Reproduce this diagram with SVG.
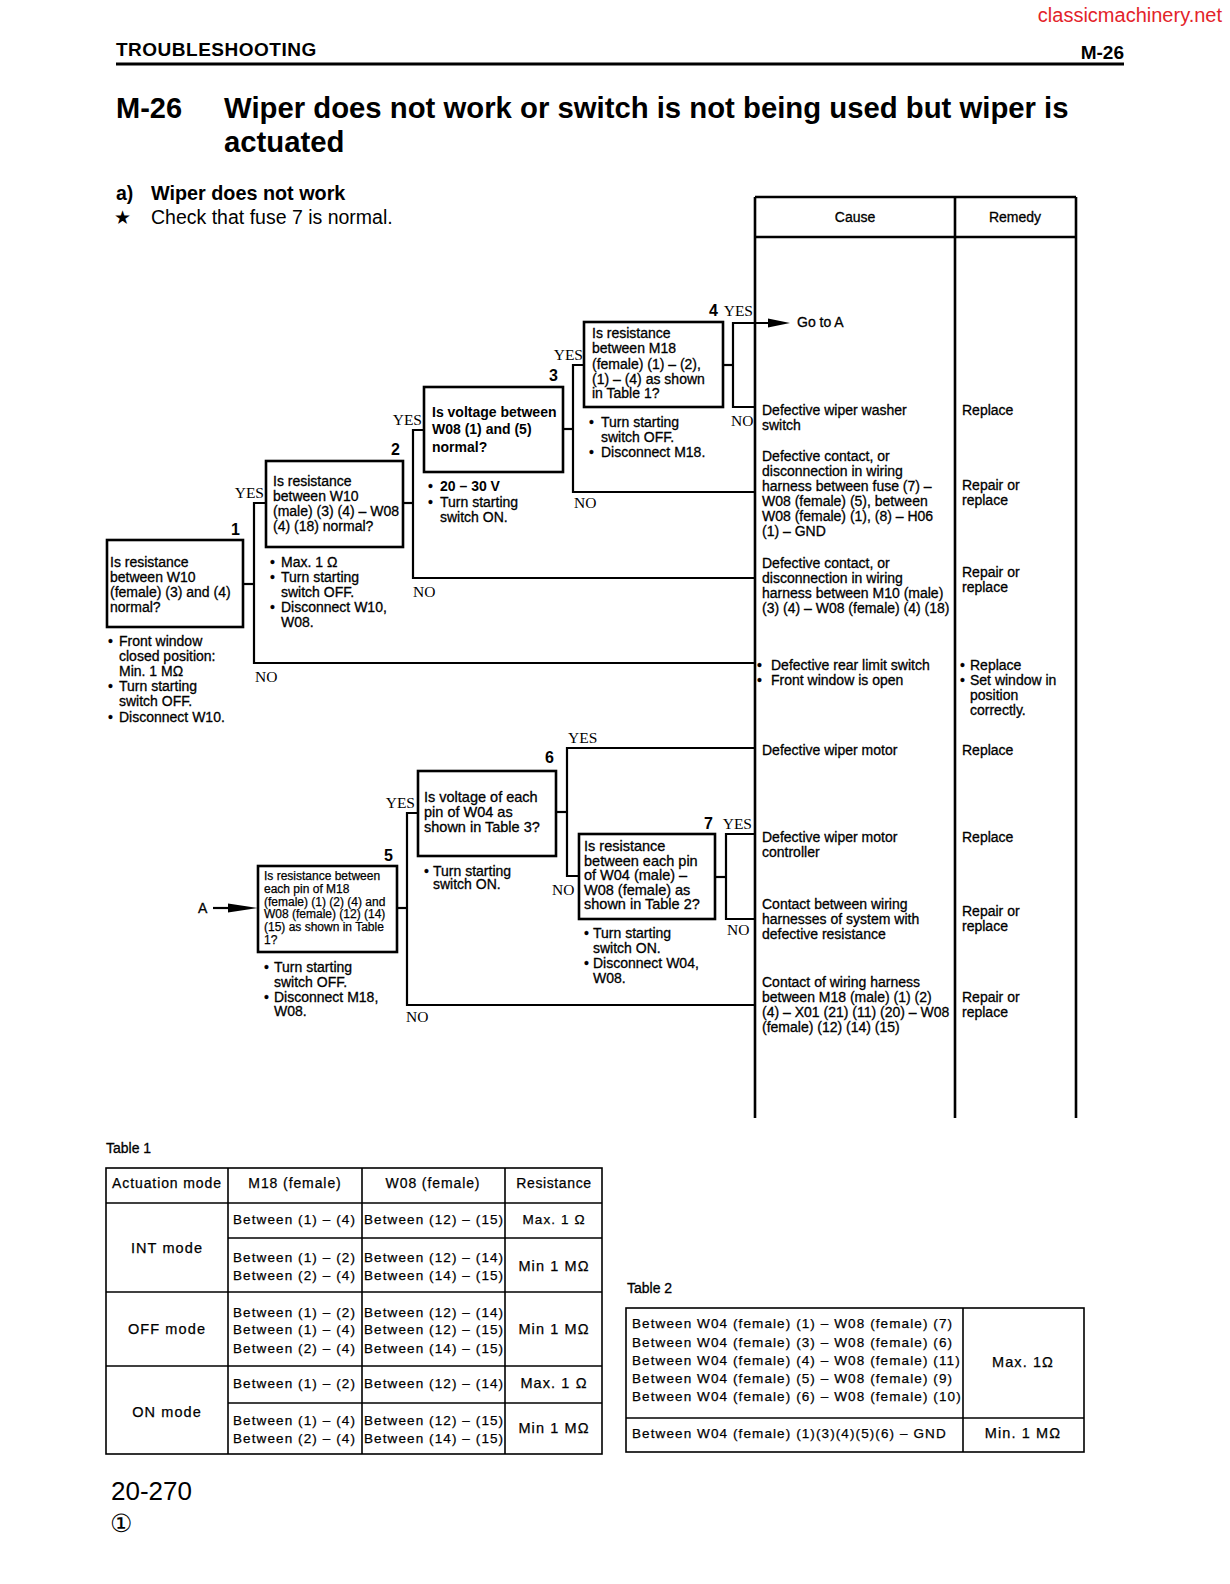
<svg xmlns="http://www.w3.org/2000/svg" width="1230" height="1584" viewBox="0 0 1230 1584">
<style>
text{font-family:"Liberation Sans",Arial,sans-serif;fill:#000}
.t{font-size:14px;stroke:#000;stroke-width:0.3}
.s{font-size:12px;stroke:#000;stroke-width:0.25}
.m{font-size:14.5px;stroke:#000;stroke-width:0.3}
.b{font-weight:bold;stroke:none}
.yn{font-family:"Liberation Serif","Times New Roman",serif;font-size:15.5px}
.num{font-size:16px;font-weight:bold}
.box{fill:#fff;stroke:#000;stroke-width:2.6}
.ln{stroke:#000;stroke-width:2.2;fill:none}
.col{stroke:#000;stroke-width:2.6;fill:none}
.tl{stroke:#000;stroke-width:1.6;fill:none}
.tb{font-size:13.5px;letter-spacing:1.1px;stroke:#000;stroke-width:0.25}
.mid{text-anchor:middle}
.end{text-anchor:end}
</style>
<rect width="1230" height="1584" fill="#fff"/>

<g id="header">
<text x="1222" y="22" class="end" style="font-size:20px;fill:#e3232a">classicmachinery.net</text>
<text x="116" y="56" class="b" style="font-size:19px;letter-spacing:0.5px">TROUBLESHOOTING</text>
<text x="1124" y="59" class="b end" style="font-size:19px">M-26</text>
<line x1="116" y1="64" x2="1124" y2="64" stroke="#000" stroke-width="3.2"/>
<text x="116" y="118" class="b" style="font-size:29px">M-26</text>
<text x="224" y="118" class="b" style="font-size:29.3px">Wiper does not work or switch is not being used but wiper is</text>
<text x="224" y="152" class="b" style="font-size:29.3px">actuated</text>
<text x="116" y="200" class="b" style="font-size:19.5px">a)</text>
<text x="151" y="200" class="b" style="font-size:19.8px">Wiper does not work</text>
<text x="114" y="224" style="font-size:19px">★</text>
<text x="151" y="224" style="font-size:19.5px">Check that fuse 7 is normal.</text>
</g>

<g id="cause-table">
<line x1="755" y1="197" x2="1076" y2="197" class="col"/>
<line x1="755" y1="237" x2="1076" y2="237" class="col"/>
<line x1="755" y1="197" x2="755" y2="1118" class="col"/>
<line x1="955" y1="197" x2="955" y2="1118" class="col"/>
<line x1="1076" y1="197" x2="1076" y2="1118" class="col"/>
<text x="855" y="222" class="t mid">Cause</text>
<text x="1015" y="222" class="t mid">Remedy</text>
<text x="797" y="327" class="t">Go to A</text>
<text x="762" y="415" class="t">Defective wiper washer</text>
<text x="762" y="430" class="t">switch</text>
<text x="962" y="415" class="t">Replace</text>
<text x="762" y="461" class="t">Defective contact, or</text>
<text x="762" y="476" class="t">disconnection in wiring</text>
<text x="762" y="491" class="t">harness between fuse (7) –</text>
<text x="762" y="506" class="t">W08 (female) (5), between</text>
<text x="762" y="521" class="t">W08 (female) (1), (8) – H06</text>
<text x="762" y="536" class="t">(1) – GND</text>
<text x="962" y="490" class="t">Repair or</text>
<text x="962" y="505" class="t">replace</text>
<text x="762" y="568" class="t">Defective contact, or</text>
<text x="762" y="583" class="t">disconnection in wiring</text>
<text x="762" y="598" class="t">harness between M10 (male)</text>
<text x="762" y="613" class="t">(3) (4) – W08 (female) (4) (18)</text>
<text x="962" y="577" class="t">Repair or</text>
<text x="962" y="592" class="t">replace</text>
<text x="757" y="670" class="t">•</text>
<text x="771" y="670" class="t">Defective rear limit switch</text>
<text x="757" y="685" class="t">•</text>
<text x="771" y="685" class="t">Front window is open</text>
<text x="960" y="670" class="t">•</text>
<text x="970" y="670" class="t">Replace</text>
<text x="960" y="685" class="t">•</text>
<text x="970" y="685" class="t">Set window in</text>
<text x="970" y="700" class="t">position</text>
<text x="970" y="715" class="t">correctly.</text>
<text x="762" y="755" class="t">Defective wiper motor</text>
<text x="962" y="755" class="t">Replace</text>
<text x="762" y="842" class="t">Defective wiper motor</text>
<text x="762" y="857" class="t">controller</text>
<text x="962" y="842" class="t">Replace</text>
<text x="762" y="909" class="t">Contact between wiring</text>
<text x="762" y="924" class="t">harnesses of system with</text>
<text x="762" y="939" class="t">defective resistance</text>
<text x="962" y="916" class="t">Repair or</text>
<text x="962" y="931" class="t">replace</text>
<text x="762" y="987" class="t">Contact of wiring harness</text>
<text x="762" y="1002" class="t">between M18 (male) (1) (2)</text>
<text x="762" y="1017" class="t">(4) – X01 (21) (11) (20) – W08</text>
<text x="762" y="1032" class="t">(female) (12) (14) (15)</text>
<text x="962" y="1002" class="t">Repair or</text>
<text x="962" y="1017" class="t">replace</text>
</g>

<g id="connectors">
<polyline class="ln" points="243,584 254,584"/>
<polyline class="ln" points="266,503 254,503 254,663 755,663"/>
<polyline class="ln" points="403,503 413,503"/>
<polyline class="ln" points="424,430 413,430 413,578 755,578"/>
<polyline class="ln" points="563,429 573,429"/>
<polyline class="ln" points="584,365 573,365 573,492 755,492"/>
<polyline class="ln" points="723,365 733,365"/>
<polyline class="ln" points="770,323 733,323 733,407 755,407"/>
<polygon points="790,323 768,318.5 768,327.5" fill="#000"/>
<line class="ln" x1="213" y1="908" x2="235" y2="908"/>
<polygon points="258,908 228,903.5 228,912.5" fill="#000"/>
<polyline class="ln" points="397,908 407,908"/>
<polyline class="ln" points="418,813 407,813 407,1005 755,1005"/>
<polyline class="ln" points="556,812 567,812"/>
<polyline class="ln" points="755,748 567,748 567,876 579,876"/>
<polyline class="ln" points="715,877 726,877"/>
<polyline class="ln" points="755,834 726,834 726,919 755,919"/>
<text x="264" y="498" class="yn end">YES</text>
<text x="255" y="682" class="yn">NO</text>
<text x="422" y="425" class="yn end">YES</text>
<text x="413" y="597" class="yn">NO</text>
<text x="583" y="360" class="yn end">YES</text>
<text x="574" y="508" class="yn">NO</text>
<text x="753" y="316" class="yn end">YES</text>
<text x="731" y="426" class="yn">NO</text>
<text x="415" y="808" class="yn end">YES</text>
<text x="406" y="1022" class="yn">NO</text>
<text x="568" y="743" class="yn">YES</text>
<text x="552" y="895" class="yn">NO</text>
<text x="752" y="829" class="yn end">YES</text>
<text x="727" y="935" class="yn">NO</text>
<text x="198" y="913" class="t">A</text>
</g>

<g id="node1">
<rect class="box" x="107" y="540" width="136" height="87"/>
<text x="240" y="535" class="num end">1</text>
<text x="110" y="567" class="t">Is resistance</text>
<text x="110" y="582" class="t">between W10</text>
<text x="110" y="597" class="t">(female) (3) and (4)</text>
<text x="110" y="612" class="t">normal?</text>
<text x="108" y="646" class="t">•</text>
<text x="119" y="646" class="t">Front window</text>
<text x="119" y="661" class="t">closed position:</text>
<text x="119" y="676" class="t">Min. 1 MΩ</text>
<text x="108" y="691" class="t">•</text>
<text x="119" y="691" class="t">Turn starting</text>
<text x="119" y="706" class="t">switch OFF.</text>
<text x="108" y="722" class="t">•</text>
<text x="119" y="722" class="t">Disconnect W10.</text>
</g>

<g id="node2">
<rect class="box" x="266" y="461" width="137" height="86"/>
<text x="400" y="455" class="num end">2</text>
<text x="273" y="486" class="t">Is resistance</text>
<text x="273" y="501" class="t">between W10</text>
<text x="273" y="516" class="t">(male) (3) (4) – W08</text>
<text x="273" y="531" class="t">(4) (18) normal?</text>
<text x="270" y="567" class="t">•</text>
<text x="281" y="567" class="t">Max. 1 Ω</text>
<text x="270" y="582" class="t">•</text>
<text x="281" y="582" class="t">Turn starting</text>
<text x="281" y="597" class="t">switch OFF.</text>
<text x="270" y="612" class="t">•</text>
<text x="281" y="612" class="t">Disconnect W10,</text>
<text x="281" y="627" class="t">W08.</text>
</g>

<g id="node3">
<rect class="box" x="424" y="387" width="139" height="85"/>
<text x="558" y="381" class="num end">3</text>
<text x="432" y="417" class="t b">Is voltage between</text>
<text x="432" y="434" class="t b">W08 (1) and (5)</text>
<text x="432" y="452" class="t b">normal?</text>
<text x="428" y="491" class="t">•</text>
<text x="440" y="491" class="t b">20 – 30 V</text>
<text x="428" y="507" class="t">•</text>
<text x="440" y="507" class="t">Turn starting</text>
<text x="440" y="522" class="t">switch ON.</text>
</g>

<g id="node4">
<rect class="box" x="584" y="322" width="139" height="85"/>
<text x="718" y="316" class="num end">4</text>
<text x="592" y="338" class="t">Is resistance</text>
<text x="592" y="353" class="t">between M18</text>
<text x="592" y="369" class="t">(female) (1) – (2),</text>
<text x="592" y="384" class="t">(1) – (4) as shown</text>
<text x="592" y="398" class="t">in Table 1?</text>
<text x="589" y="427" class="t">•</text>
<text x="601" y="427" class="t">Turn starting</text>
<text x="601" y="442" class="t">switch OFF.</text>
<text x="589" y="457" class="t">•</text>
<text x="601" y="457" class="t">Disconnect M18.</text>
</g>

<g id="node5">
<rect class="box" x="258" y="866" width="139" height="86"/>
<text x="393" y="861" class="num end">5</text>
<text x="264" y="880" class="s">Is resistance between</text>
<text x="264" y="893" class="s">each pin of M18</text>
<text x="264" y="906" class="s">(female) (1) (2) (4) and</text>
<text x="264" y="918" class="s">W08 (female) (12) (14)</text>
<text x="264" y="931" class="s">(15) as shown in Table</text>
<text x="264" y="944" class="s">1?</text>
<text x="264" y="972" class="t">•</text>
<text x="274" y="972" class="t">Turn starting</text>
<text x="274" y="987" class="t">switch OFF.</text>
<text x="264" y="1002" class="t">•</text>
<text x="274" y="1002" class="t">Disconnect M18,</text>
<text x="274" y="1016" class="t">W08.</text>
</g>

<g id="node6">
<rect class="box" x="418" y="771" width="138" height="85"/>
<text x="554" y="763" class="num end">6</text>
<text x="424" y="802" class="m">Is voltage of each</text>
<text x="424" y="817" class="m">pin of W04 as</text>
<text x="424" y="832" class="m">shown in Table 3?</text>
<text x="424" y="876" class="t">•</text>
<text x="433" y="876" class="t">Turn starting</text>
<text x="433" y="889" class="t">switch ON.</text>
</g>

<g id="node7">
<rect class="box" x="579" y="834" width="136" height="85"/>
<text x="713" y="829" class="num end">7</text>
<text x="584" y="851" class="m">Is resistance</text>
<text x="584" y="866" class="m">between each pin</text>
<text x="584" y="880" class="m">of W04 (male) –</text>
<text x="584" y="895" class="m">W08 (female) as</text>
<text x="584" y="909" class="m">shown in Table 2?</text>
<text x="584" y="938" class="t">•</text>
<text x="593" y="938" class="t">Turn starting</text>
<text x="593" y="953" class="t">switch ON.</text>
<text x="584" y="968" class="t">•</text>
<text x="593" y="968" class="t">Disconnect W04,</text>
<text x="593" y="983" class="t">W08.</text>
</g>

<g id="table1">
<text x="106" y="1153" class="t">Table 1</text>
<rect class="tl" x="106" y="1168" width="496" height="286"/>
<line class="tl" x1="106" y1="1203" x2="602" y2="1203"/>
<line class="tl" x1="228" y1="1238" x2="602" y2="1238"/>
<line class="tl" x1="106" y1="1292" x2="602" y2="1292"/>
<line class="tl" x1="106" y1="1366" x2="602" y2="1366"/>
<line class="tl" x1="228" y1="1403" x2="602" y2="1403"/>
<line class="tl" x1="228" y1="1168" x2="228" y2="1454"/>
<line class="tl" x1="362" y1="1168" x2="362" y2="1454"/>
<line class="tl" x1="505" y1="1168" x2="505" y2="1454"/>
<text x="167" y="1188" class="tb mid" style="font-size:14px;letter-spacing:0.9px">Actuation mode</text>
<text x="295" y="1188" class="tb mid" style="font-size:14px;letter-spacing:0.9px">M18 (female)</text>
<text x="433" y="1188" class="tb mid" style="font-size:14px;letter-spacing:0.9px">W08 (female)</text>
<text x="554" y="1188" class="tb mid" style="font-size:14px;letter-spacing:0.6px">Resistance</text>
<text x="167" y="1253" class="tb mid" style="font-size:14.5px">INT mode</text>
<text x="167" y="1334" class="tb mid" style="font-size:14.5px">OFF mode</text>
<text x="167" y="1417" class="tb mid" style="font-size:14.5px">ON mode</text>
<text x="233" y="1224" class="tb">Between (1) – (4)</text>
<text x="364" y="1224" class="tb">Between (12) – (15)</text>
<text x="554" y="1224" class="tb mid">Max. 1 Ω</text>
<text x="233" y="1262" class="tb">Between (1) – (2)</text>
<text x="364" y="1262" class="tb">Between (12) – (14)</text>
<text x="233" y="1280" class="tb">Between (2) – (4)</text>
<text x="364" y="1280" class="tb">Between (14) – (15)</text>
<text x="554" y="1271" class="tb mid" style="font-size:14.5px">Min 1 MΩ</text>
<text x="233" y="1317" class="tb">Between (1) – (2)</text>
<text x="364" y="1317" class="tb">Between (12) – (14)</text>
<text x="233" y="1334" class="tb">Between (1) – (4)</text>
<text x="364" y="1334" class="tb">Between (12) – (15)</text>
<text x="233" y="1353" class="tb">Between (2) – (4)</text>
<text x="364" y="1353" class="tb">Between (14) – (15)</text>
<text x="554" y="1334" class="tb mid" style="font-size:14.5px">Min 1 MΩ</text>
<text x="233" y="1388" class="tb">Between (1) – (2)</text>
<text x="364" y="1388" class="tb">Between (12) – (14)</text>
<text x="554" y="1388" class="tb mid" style="font-size:14.5px">Max. 1 Ω</text>
<text x="233" y="1425" class="tb">Between (1) – (4)</text>
<text x="364" y="1425" class="tb">Between (12) – (15)</text>
<text x="233" y="1443" class="tb">Between (2) – (4)</text>
<text x="364" y="1443" class="tb">Between (14) – (15)</text>
<text x="554" y="1433" class="tb mid" style="font-size:14.5px">Min 1 MΩ</text>
</g>

<g id="table2">
<text x="627" y="1293" class="t">Table 2</text>
<rect class="tl" x="626" y="1308" width="458" height="144"/>
<line class="tl" x1="963" y1="1308" x2="963" y2="1452"/>
<line class="tl" x1="626" y1="1418" x2="1084" y2="1418"/>
<text x="632" y="1328" class="tb">Between W04 (female) (1) – W08 (female) (7)</text>
<text x="632" y="1347" class="tb">Between W04 (female) (3) – W08 (female) (6)</text>
<text x="632" y="1365" class="tb">Between W04 (female) (4) – W08 (female) (11)</text>
<text x="632" y="1383" class="tb">Between W04 (female) (5) – W08 (female) (9)</text>
<text x="632" y="1401" class="tb">Between W04 (female) (6) – W08 (female) (10)</text>
<text x="1023" y="1367" class="tb mid" style="font-size:14.5px">Max. 1Ω</text>
<text x="632" y="1438" class="tb">Between W04 (female) (1)(3)(4)(5)(6) – GND</text>
<text x="1023" y="1438" class="tb mid" style="font-size:14.5px">Min. 1 MΩ</text>
</g>

<g id="footer">
<text x="111" y="1500" style="font-size:26px">20-270</text>
<text x="110" y="1532" style="font-size:25px">①</text>
</g>
</svg>
